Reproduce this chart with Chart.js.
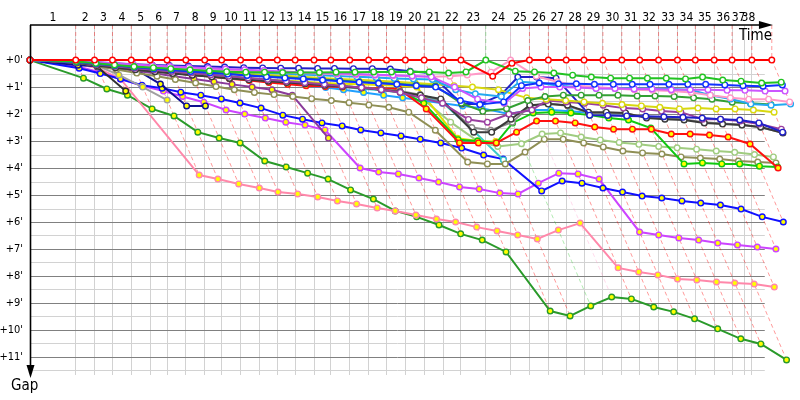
<!DOCTYPE html>
<html>
<head>
<meta charset="utf-8">
<script src="https://cdn.jsdelivr.net/npm/chart.js@4.4.1/dist/chart.umd.min.js"></script>
<style>
  html, body { margin: 0; padding: 0; background: #fff; }
  #wrap { width: 800px; height: 400px; }
</style>
</head>
<body>
<div id="wrap"><canvas id="gapChart" width="800" height="400"></canvas></div>
<script>
// leader's crossing time at the end of each lap, minutes (index 0 = start)
const leaderTimes = [0, 3.97, 5.60, 7.16, 8.79, 10.43, 11.90, 13.53, 15.17, 16.64,
  18.28, 19.91, 21.47, 23.02, 24.66, 26.12, 27.76, 29.40, 30.95, 32.59,
  34.22, 35.86, 37.41, 39.57, 41.72, 43.36, 45.00, 46.55, 48.10, 49.74,
  51.38, 52.93, 54.57, 56.21, 57.76, 59.40, 60.95, 62.67, 64.40];

// vertical grid lines and lap numbers along the time axis
const gridTimes = [...leaderTimes.slice(1, 37), 62.07, 62.67];
const lapLabels = Array.from({ length: 38 }, (_, i) => String(i + 1));

// gap to the leader (minutes) per lap, one array per car
const gapRed = [0, 0, 0, 0, 0, 0, 0, 0, 0, 0,
  0, 0, 0, 0, 0, 0, 0, 0, 0, 0,
  0, 0, 0, 0.6, 0.12, 0, 0, 0, 0, 0,
  0, 0, 0, 0, 0, 0, 0, 0, 0];
const gapGreen = [0, 0.05, 0.12, 0.18, 0.24, 0.28, 0.32, 0.36, 0.4, 0.43,
  0.45, 0.45, 0.46, 0.46, 0.46, 0.45, 0.45, 0.44, 0.44, 0.43,
  0.44, 0.48, 0.44, 0, 0.41, 0.44, 0.48, 0.56, 0.63, 0.67,
  0.67, 0.67, 0.67, 0.7, 0.63, 0.74, 0.78, 0.85, 0.82];
const gapBlueA = [0, 0.04, 0.08, 0.12, 0.15, 0.18, 0.2, 0.22, 0.24, 0.26,
  0.28, 0.29, 0.3, 0.3, 0.31, 0.31, 0.32, 0.32, 0.33, 0.41,
  0.48, 1.63, 1.63, 1.3, 0.63, 0.63, 0.67, 2.04, 2.05, 2.07,
  2.08, 2.1, 2.12, 2.15, 2.19, 2.22, 2.33, 2.67];
const gapBlueB = [0, 0.07, 0.14, 0.2, 0.26, 0.32, 0.37, 0.42, 0.47, 0.52,
  0.57, 0.62, 0.66, 0.7, 0.74, 0.78, 0.82, 0.86, 0.9, 0.95,
  1.0, 1.5, 1.65, 1.55, 0.95, 0.85, 0.88, 0.88, 0.9, 0.9,
  0.9, 0.9, 0.9, 0.9, 0.9, 0.92, 0.95, 0.97, 0.92];
const gapViolet = [0, 0.04, 0.08, 0.12, 0.16, 0.2, 0.24, 0.27, 0.3, 0.33,
  0.36, 0.39, 0.42, 0.45, 0.48, 0.5, 0.52, 0.54, 0.56, 0.59,
  0.62, 1.0, 1.45, 1.6, 1.05, 1.0, 1.0, 1.02, 1.05, 1.05,
  1.07, 1.07, 1.1, 1.1, 1.1, 1.12, 1.12, 1.15, 1.15];
const gapCyan = [0, 0.05, 0.1, 0.15, 0.2, 0.24, 0.28, 0.32, 0.36, 0.4,
  0.44, 0.47, 0.5, 0.53, 0.56, 0.59, 0.62, 0.65, 0.68, 0.7,
  0.72, 1.1, 1.25, 1.35, 0.8, 0.85, 0.95, 1.0, 1.04, 1.05,
  1.05, 1.06, 1.07, 1.1, 1.3, 1.44, 1.63, 1.67, 1.63];
const gapPink = [0, 0.05, 0.1, 0.14, 0.18, 0.22, 0.26, 0.3, 0.33, 0.36,
  0.39, 0.42, 0.45, 0.48, 0.5, 0.52, 0.54, 0.56, 0.58, 0.6,
  0.62, 0.6, 0.55, 0.45, 0, 0.6, 0.8, 0.95, 1.0, 1.05,
  1.1, 1.12, 1.15, 1.2, 1.3, 1.4, 1.45, 1.45, 1.55];
const gapForest = [0, 0.07, 0.14, 0.2, 0.26, 0.31, 0.36, 0.41, 0.46, 0.51,
  0.56, 0.6, 0.64, 0.68, 0.72, 0.76, 0.8, 0.84, 0.88, 0.92,
  0.96, 1.6, 1.9, 1.8, 1.5, 1.35, 1.3, 1.3, 1.3, 1.3,
  1.33, 1.33, 1.35, 1.4, 1.45, 1.56, 1.6, 1.65];
const gapYellow = [0, 0.06, 0.12, 0.18, 0.23, 0.28, 0.33, 0.38, 0.42, 0.46,
  0.5, 0.54, 0.58, 0.62, 0.66, 0.7, 0.73, 0.77, 0.8, 0.85,
  0.9, 0.95, 1.0, 1.1, 1.4, 1.45, 1.5, 1.55, 1.6, 1.65,
  1.7, 1.75, 1.81, 1.78, 1.81, 1.81, 1.85, 1.93];
const gapPurple = [0, 0.08, 0.16, 0.23, 0.3, 0.36, 0.42, 0.48, 0.54, 0.6,
  0.66, 0.72, 0.78, 0.84, 0.9, 0.96, 1.02, 1.1, 1.2, 1.4,
  1.6, 2.2, 2.3, 2.0, 1.85, 1.5, 1.55, 1.6, 1.67, 1.78,
  1.81, 1.89, 1.93, 2.19, 2.19, 2.26, 2.37, 2.56];
const gapBlack = [0, 0.1, 0.2, 0.28, 0.36, 0.43, 0.5, 0.56, 0.62, 0.68,
  0.73, 0.78, 0.83, 0.88, 0.93, 0.98, 1.03, 1.1, 1.18, 1.3,
  1.44, 2.67, 2.67, 2.19, 1.67, 1.63, 1.67, 1.93, 1.93, 1.96,
  2.15, 2.19, 2.22, 2.33, 2.37, 2.41, 2.48, 2.7];
const gapGray = [0, 0.09, 0.18, 0.26, 0.34, 0.41, 0.48, 0.55, 0.61, 0.67,
  0.72, 0.77, 0.82, 0.87, 0.92, 0.97, 1.02, 1.08, 1.15, 1.28,
  1.5, 2.5, 2.6, 2.3, 1.7, 1.6, 1.7, 1.95, 1.98, 2.0,
  2.1, 2.15, 2.2, 2.3, 2.35, 2.4, 2.5, 2.68];
const gapRedYd = [0, 0.08, 0.16, 0.24, 0.32, 0.4, 0.48, 0.55, 0.62, 0.69,
  0.76, 0.83, 0.9, 0.95, 0.98, 1.0, 1.02, 1.05, 1.07, 1.81,
  3.07, 3.07, 3.07, 2.67, 2.26, 2.26, 2.33, 2.48, 2.56, 2.56,
  2.56, 2.74, 2.74, 2.78, 2.85, 3.11, 4.0];
const gapLimeYd = [0, 0.06, 0.13, 0.2, 0.27, 0.34, 0.41, 0.48, 0.55, 0.62,
  0.68, 0.74, 0.8, 0.86, 0.92, 0.97, 1.02, 1.07, 1.12, 1.6,
  2.95, 3.0, 3.07, 2.33, 1.96, 1.93, 1.96, 2.04, 2.15, 2.22,
  2.52, 3.85, 3.81, 3.85, 3.85, 3.93, 3.96];
const gapLightGreen = [0, 0.07, 0.14, 0.21, 0.28, 0.35, 0.42, 0.48, 0.54, 0.6,
  0.66, 0.72, 0.78, 0.84, 0.9, 0.96, 1.02, 1.1, 1.2, 1.4,
  2.3, 3.0, 3.2, 3.1, 2.74, 2.7, 2.85, 2.96, 3.05, 3.12,
  3.2, 3.25, 3.3, 3.37, 3.42, 3.5, 3.59];
const gapOlive = [0, 0.1, 0.22, 0.35, 0.48, 0.6, 0.72, 0.85, 0.98, 1.1,
  1.2, 1.28, 1.35, 1.43, 1.5, 1.58, 1.66, 1.75, 1.93, 2.6,
  3.78, 3.85, 3.85, 3.41, 2.93, 2.93, 3.07, 3.22, 3.37, 3.44,
  3.48, 3.59, 3.63, 3.67, 3.74, 3.78, 3.81];
const gapTeal = [0, 0.08, 0.16, 0.24, 0.31, 0.38, 0.45, 0.52, 0.58, 0.64,
  0.7, 0.76, 0.82, 0.88, 0.94, 1.0, 1.06, 1.12, 1.2, 1.35,
  1.55, 2.6, 3.7];
const gapYellowYd = [0, 0.06, 0.12, 0.2, 0.28, 0.36, 0.44, 0.52, 0.6, 0.66,
  0.7, 0.74, 0.77, 0.8, 0.85, 0.88, 0.9, 0.92, 0.95, 1.0,
  2.9, 3.0, 3.02];
const gapSkyYd = [0, 0.07, 0.14, 0.21, 0.28, 0.35, 0.42, 0.49, 0.56, 0.63,
  0.7, 0.78, 0.86, 0.94, 1.02, 1.1, 1.2, 1.3, 1.4, 1.5,
  1.6, 1.7, 1.78, 2.0, 1.85, 1.85, 1.9, 1.95, 2.0, 2.05];
const gapPlumYd = [0, 0.1, 0.2, 0.3, 0.4, 0.5, 0.6, 0.7, 0.8, 0.9, 1.0, 1.1, 1.3, 2.89];
const gapNavyYd = [0, 0.19, 0.22, 0.3, 0.33, 0.89, 1.7, 1.7];
const gapBlackYd = [0, 0.12, 0.25, 1.15];
const gapGrayYd = [0, 0.1, 0.2, 0.55, 1.0, 1.48];
const gapBlueYd = [0, 0.3, 0.5, 0.7, 0.93, 1.04, 1.19, 1.3, 1.44, 1.59,
  1.78, 2.04, 2.19, 2.33, 2.44, 2.59, 2.7, 2.81, 2.93, 3.07,
  3.26, 3.52, 3.67, 4.85, 4.48, 4.56, 4.74, 4.89, 5.04, 5.11,
  5.22, 5.3, 5.37, 5.52, 5.81, 6.0];
const gapVioletYd = [0, 0.25, 0.45, 0.7, 0.95, 1.15, 1.35, 1.56, 1.85, 2.0,
  2.15, 2.3, 2.41, 2.59, 4.0, 4.15, 4.22, 4.37, 4.52, 4.7,
  4.78, 4.93, 4.96, 4.56, 4.19, 4.22, 4.41, 6.37, 6.48, 6.59,
  6.67, 6.78, 6.85, 6.93, 7.0];
const gapPinkYd = [0, 0.15, 0.3, 0.7, null, 4.26, 4.41, 4.59, 4.74, 4.89,
  4.96, 5.07, 5.22, 5.33, 5.48, 5.59, 5.74, 5.89, 6.0, 6.19,
  6.33, 6.48, 6.63, 6.3, 6.04, 7.7, 7.85, 7.96, 8.11, 8.15,
  8.22, 8.26, 8.3, 8.41];
const gapGreenYd = [0, 0.67, 1.07, 1.3, 1.81, 2.07, 2.67, 2.89, 3.07, 3.74,
  3.96, 4.19, 4.41, 4.81, 5.15, 5.59, 5.81, 6.11, 6.44, 6.67,
  7.11, 9.3, 9.48, 9.11, 8.78, 8.85, 9.15, 9.33, 9.59, 9.96,
  10.33, 10.52, 11.11];

const WHITE = '#ffffff';
const YELLOW = '#ffff00';
const cars = [
  { gaps: gapRed, color: '#ff0000', dot: WHITE },
  { gaps: gapGreen, color: '#22c322', dot: WHITE },
  { gaps: gapBlueB, color: '#1030ff', dot: WHITE },
  { gaps: gapViolet, color: '#cc55ff', dot: WHITE },
  { gaps: gapPink, color: '#ff99c8', dot: WHITE },
  { gaps: gapCyan, color: '#22a8f0', dot: WHITE },
  { gaps: gapForest, color: '#33a033', dot: WHITE },
  { gaps: gapYellow, color: '#d8d810', dot: WHITE },
  { gaps: gapBlueA, color: '#2020c8', dot: WHITE },
  { gaps: gapPurple, color: '#9a3fa0', dot: WHITE },
  { gaps: gapBlack, color: '#3a3a3a', dot: WHITE },
  { gaps: gapGray, color: '#8a8a8a', dot: WHITE },
  { gaps: gapRedYd, color: '#ff1010', dot: YELLOW },
  { gaps: gapLimeYd, color: '#10c810', dot: YELLOW },
  { gaps: gapSkyYd, color: '#20a0ff', dot: YELLOW },
  { gaps: gapYellowYd, color: '#e0e000', dot: YELLOW },
  { gaps: gapLightGreen, color: '#a0cc80', dot: WHITE },
  { gaps: gapOlive, color: '#8f8f55', dot: WHITE },
  { gaps: gapTeal, color: '#3cc8c8', dot: WHITE },
  { gaps: gapPlumYd, color: '#8a3a9a', dot: YELLOW },
  { gaps: gapNavyYd, color: '#101090', dot: YELLOW },
  { gaps: gapBlackYd, color: '#303030', dot: YELLOW },
  { gaps: gapGrayYd, color: '#a0a0a0', dot: YELLOW },
  { gaps: gapBlueYd, color: '#1010ff', dot: YELLOW },
  { gaps: gapVioletYd, color: '#cc44ff', dot: YELLOW },
  { gaps: gapPinkYd, color: '#ff88aa', dot: YELLOW },
  { gaps: gapGreenYd, color: '#2a9a2a', dot: YELLOW }
];

const FONT = "'DejaVu Sans Condensed', 'DejaVu Sans', sans-serif";
const Y_TOP = -1.3;
const Y_BOTTOM = 11.67;
const X_MAX = 66.38;     // right edge of the canvas
const GRID_END = 63.79;  // horizontal grid stops here
const ARROW_END = 64.5;  // tip of the time axis arrow

function withAlpha(hex, a) {
  const n = parseInt(hex.slice(1), 16);
  return `rgba(${n >> 16}, ${(n >> 8) & 255}, ${n & 255}, ${a})`;
}

// a car crosses the line at leader time + its gap
const carSets = cars.map(c => ({
  data: c.gaps.map((g, i) => ({ x: leaderTimes[i] + (g === null ? 0 : g), y: g })),
  borderColor: c.color,
  backgroundColor: c.color,
  borderWidth: 2,
  pointRadius: 2.8,
  pointBorderWidth: 1.4,
  pointBackgroundColor: c.dot,
  pointBorderColor: c.color,
  spanGaps: true,
  tension: 0,
  clip: false,
  order: 0
}));

// dashed "same lap" lines, coloured after the car leading that lap
const lapSets = [];
for (let i = 1; i < leaderTimes.length; i++) {
  let gmax = 0;
  let leader = cars[0];
  let found = false;
  cars.forEach(c => {
    const g = c.gaps[i];
    if (g === undefined || g === null) return;
    if (g > gmax) gmax = g;
    if (g === 0 && !found) { leader = c; found = true; }
  });
  lapSets.push({
    data: [
      { x: leaderTimes[i], y: Y_TOP },
      { x: leaderTimes[i], y: 0 },
      { x: leaderTimes[i] + gmax, y: gmax }
    ],
    borderColor: withAlpha(leader.color, leader === cars[0] ? 0.4 : 0.35),
    borderWidth: 1,
    borderDash: [4, 3],
    pointRadius: 0,
    tension: 0,
    clip: false,
    order: 1
  });
}

const yTicks = [];
for (let v = 0; v <= 11.5; v += 0.5) yTicks.push(v);

// horizontal minute / half-minute lines, stopping short of the right edge
const gapGrid = {
  id: 'gapGrid',
  beforeDatasetsDraw(chart) {
    const { ctx, chartArea: a, scales } = chart;
    const xEnd = scales.x.getPixelForValue(GRID_END);
    ctx.save();
    ctx.lineWidth = 1;
    yTicks.forEach(v => {
      const y = Math.round(scales.y.getPixelForValue(v)) + 0.5;
      ctx.strokeStyle = Number.isInteger(v) ? '#808080' : '#d2d2d2';
      ctx.beginPath();
      ctx.moveTo(a.left, y);
      ctx.lineTo(xEnd, y);
      ctx.stroke();
    });
    ctx.restore();
  }
};

const axisArrows = {
  id: 'axisArrows',
  afterDraw(chart) {
    const { ctx, chartArea: a, scales } = chart;
    const tip = scales.x.getPixelForValue(ARROW_END);
    ctx.save();
    ctx.strokeStyle = '#000';
    ctx.fillStyle = '#000';
    ctx.lineWidth = 1.6;
    ctx.beginPath();
    ctx.moveTo(a.left, a.top);
    ctx.lineTo(tip - 8, a.top);
    ctx.stroke();
    ctx.beginPath();
    ctx.moveTo(tip - 14, a.top - 4);
    ctx.lineTo(tip, a.top);
    ctx.lineTo(tip - 14, a.top + 4);
    ctx.closePath();
    ctx.fill();

    ctx.beginPath();
    ctx.moveTo(a.left + 0.5, a.top);
    ctx.lineTo(a.left + 0.5, a.bottom - 8);
    ctx.stroke();
    ctx.beginPath();
    ctx.moveTo(a.left - 3.5, a.bottom - 10);
    ctx.lineTo(a.left + 0.5, a.bottom + 3);
    ctx.lineTo(a.left + 4.5, a.bottom - 10);
    ctx.closePath();
    ctx.fill();

    ctx.font = '15px ' + FONT;
    ctx.textBaseline = 'middle';
    ctx.textAlign = 'right';
    ctx.fillText('Time', tip - 1, a.top + 11);
    ctx.textAlign = 'left';
    ctx.fillText('Gap', 11, a.bottom + 11);
    ctx.restore();
  }
};

Chart.defaults.font.family = FONT;

new Chart(document.getElementById('gapChart'), {
  type: 'line',
  data: { datasets: [...carSets, ...lapSets] },
  options: {
    responsive: false,
    animation: false,
    layout: { padding: { left: 0, right: 0, top: 0, bottom: 25 } },
    plugins: { legend: { display: false }, tooltip: { enabled: false } },
    scales: {
      x: {
        type: 'linear',
        position: 'top',
        min: 0,
        max: X_MAX,
        afterBuildTicks: s => {
          s.ticks = lapLabels.map((_, i) => ({ value: ((i === 0 ? 0 : gridTimes[i - 1]) + gridTimes[i]) / 2 }));
        },
        afterFit: s => { s.height = 25; },
        ticks: {
          autoSkip: false,
          maxRotation: 0,
          minRotation: 0,
          padding: 0,
          color: '#000',
          font: { size: 12 },
          callback: (v, i) => lapLabels[i]
        },
        grid: { display: false, drawTicks: false },
        border: { display: false }
      },
      xg: {
        type: 'linear',
        position: 'top',
        min: 0,
        max: X_MAX,
        afterBuildTicks: s => { s.ticks = gridTimes.map(v => ({ value: v })); },
        afterFit: s => { s.height = 0; },
        ticks: { display: false },
        grid: { color: '#d2d2d2', lineWidth: 1, drawTicks: false },
        border: { display: false }
      },
      y: {
        type: 'linear',
        reverse: true,
        min: Y_TOP,
        max: Y_BOTTOM,
        afterBuildTicks: s => { s.ticks = yTicks.map(v => ({ value: v })); },
        afterFit: s => { s.width = 30; },
        ticks: {
          autoSkip: false,
          padding: 7,
          color: '#000',
          font: { size: 11 },
          callback: v => Number.isInteger(v) ? "+" + v + "'" : ''
        },
        grid: { display: false, drawTicks: false },
        border: { display: false }
      }
    }
  },
  plugins: [gapGrid, axisArrows]
});
</script>
</body>
</html>
